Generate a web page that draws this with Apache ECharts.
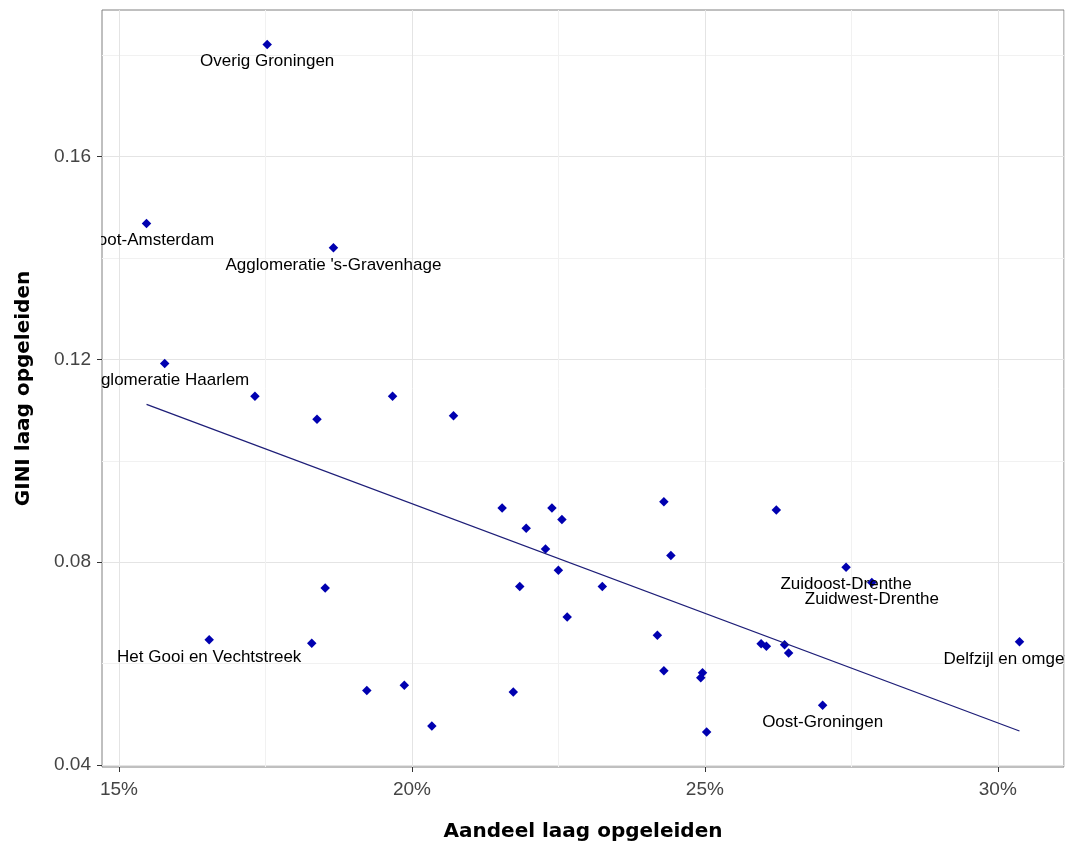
<!DOCTYPE html>
<html>
<head>
<meta charset="utf-8">
<script src="https://cdn.jsdelivr.net/npm/echarts@6/dist/echarts.min.js"></script>
<style>
html,body{margin:0;padding:0;background:#fff;}
#chart{width:1065px;height:844px;}
</style>
</head>
<body>
<div id="chart"></div>
<script>
// Aandeel laag opgeleiden (%)
const shareLow = [17.53,15.47,18.66,15.78,17.32,18.38,19.67,20.71,21.54,22.39,
  22.56,21.95,22.28,22.50,21.84,23.25,22.65,24.30,24.42,26.22,
  24.19,24.30,24.96,24.93,25.03,25.96,26.05,26.36,26.43,19.87,
  21.73,20.34,27.41,27.85,30.37,27.01,16.54,18.52,18.29,19.23];
// GINI laag opgeleiden
const giniLow = [0.1821,0.1468,0.1420,0.1192,0.1127,0.1082,0.1127,0.1089,0.0907,0.0907,
  0.0884,0.0867,0.0826,0.0784,0.0752,0.0752,0.0692,0.0919,0.0813,0.0903,
  0.0656,0.0586,0.0582,0.0572,0.0465,0.0639,0.0634,0.0637,0.0621,0.0557,
  0.0544,0.0477,0.0790,0.0760,0.0643,0.0518,0.0647,0.0749,0.0640,0.0547];
const regionNames = ["Overig Groningen","Groot-Amsterdam","Agglomeratie 's-Gravenhage","Agglomeratie Haarlem","","","","","","",
  "","","","","","","","","","",
  "","","","","","","","","","",
  "","","Zuidoost-Drenthe","Zuidwest-Drenthe","Delfzijl en omgeving","Oost-Groningen","Het Gooi en Vechtstreek","","",""];
// fitted trend line end points
const trendX = [15.47, 30.37];
const trendY = [0.1111, 0.0467];

const xMajor = [15, 20, 25, 30];
const xMinor = [17.5, 22.5, 27.5];
const yMajor = [0.04, 0.08, 0.12, 0.16];
const yMinor = [0.06, 0.10, 0.14, 0.18];

const xMin = 14.71, xMax = 31.13, yMin = 0.0396, yMax = 0.1889;

const chart = echarts.init(document.getElementById('chart'), null, {renderer:'canvas'});

const tickFont = {fontFamily:'Liberation Sans, Arial, sans-serif', fontSize:19, color:'#444'};
const titleFont = {fontFamily:'DejaVu Sans, sans-serif', fontSize:20, fontWeight:'bold', color:'#000'};

function gridAxis(values, color, extra) {
  return Object.assign({
    type:'value', gridIndex:0,
    axisLine:{show:false},
    axisTick:{show:false, customValues:values},
    axisLabel:{show:false, customValues:values},
    splitLine:{show:true, lineStyle:{color:color, width:1}}
  }, extra);
}

const points = shareLow.map((x, i) => ({value:[x, giniLow[i]], name:regionNames[i]}));

chart.setOption({
  animation:false,
  backgroundColor:'#fff',
  grid:{left:102, right:1, top:10, bottom:77, show:true, borderColor:'#808080', borderWidth:1,
        backgroundColor:'#fff', containLabel:false, outerBoundsMode:'none'},
  xAxis:[
    gridAxis(xMajor, '#e4e4e4', {min:xMin, max:xMax}),
    gridAxis(xMinor, '#f1f1f1', {min:xMin, max:xMax}),
    {
      type:'value', gridIndex:0, min:xMin, max:xMax, z:60, position:'bottom',
      axisLine:{show:false},
      axisTick:{show:true, customValues:xMajor, length:5, lineStyle:{color:'#333'}},
      axisLabel:Object.assign({show:true, customValues:xMajor, margin:13, formatter:v => Math.round(v) + '%'}, tickFont),
      splitLine:{show:false},
      name:'Aandeel laag opgeleiden', nameLocation:'middle', nameGap:55,
      nameTextStyle:titleFont
    }
  ],
  yAxis:[
    gridAxis(yMajor, '#e4e4e4', {min:yMin, max:yMax}),
    gridAxis(yMinor, '#f1f1f1', {min:yMin, max:yMax}),
    {
      type:'value', gridIndex:0, min:yMin, max:yMax, z:60, position:'left',
      axisLine:{show:false},
      axisTick:{show:true, customValues:yMajor, length:5, lineStyle:{color:'#333'}},
      axisLabel:Object.assign({show:true, customValues:yMajor, margin:11, formatter:v => v.toFixed(2)}, tickFont),
      splitLine:{show:false},
      name:'GINI laag opgeleiden', nameLocation:'middle', nameGap:68, nameRotate:90,
      nameTextStyle:titleFont
    }
  ],
  graphic:[
    {type:'rect', z:50, shape:{x:0, y:0, width:101, height:844}, style:{fill:'#fff'}},
    {type:'rect', z:50, shape:{x:1064.5, y:0, width:10, height:844}, style:{fill:'#fff'}}
  ],
  series:[
    {
      type:'scatter', xAxisIndex:0, yAxisIndex:0, z:3,
      symbol:'diamond', symbolSize:9.5,
      itemStyle:{color:'#0000b0', opacity:1},
      data:points,
      label:{
        show:true, position:'bottom', distance:4,
        formatter:p => p.name || '',
        fontFamily:'Liberation Sans, Arial, sans-serif', fontSize:17, color:'#000'
      }
    },
    {
      type:'line', xAxisIndex:0, yAxisIndex:0, z:4,
      symbol:'none', silent:true,
      lineStyle:{color:'#1e1e78', width:1.3},
      data:trendX.map((x, i) => [x, trendY[i]])
    }
  ]
});
</script>
</body>
</html>
